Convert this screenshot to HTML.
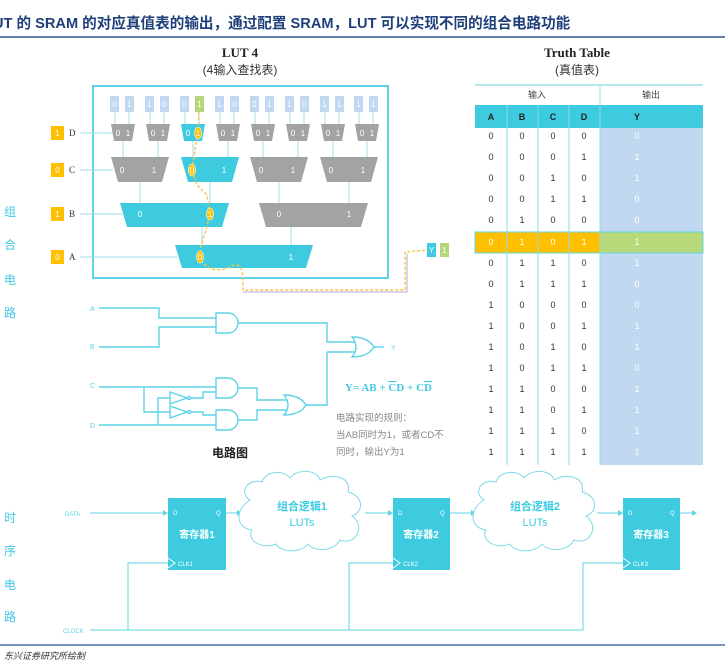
<!DOCTYPE html>
<html><head><meta charset="utf-8"><style>
html,body{margin:0;padding:0;background:#fff;width:725px;height:662px;overflow:hidden}
svg{display:block}
text{font-family:"Liberation Sans","Noto Sans CJK SC",sans-serif}
.s{font-family:"Liberation Serif","Noto Serif CJK SC",serif}
</style></head><body>
<svg width="725" height="662" viewBox="0 0 725 662" xmlns="http://www.w3.org/2000/svg">
<text x="-7" y="28" font-size="14.6" font-weight="bold" fill="#1f3f7a">UT 的 SRAM 的对应真值表的输出，通过配置 SRAM，LUT 可以实现不同的组合电路功能</text>
<line x1="0" y1="37" x2="725" y2="37" stroke="#2a5592" stroke-width="1.5"/>

<text class="s" x="240" y="57" font-size="13" font-weight="bold" text-anchor="middle" fill="#222">LUT 4</text>
<text x="240" y="74" font-size="12" text-anchor="middle" fill="#333">(4输入查找表)</text>
<text class="s" x="577" y="57" font-size="13" font-weight="bold" text-anchor="middle" fill="#222">Truth Table</text>
<text x="577" y="74" font-size="12" text-anchor="middle" fill="#333">(真值表)</text>

<rect x="93" y="86" width="295" height="192" fill="#fff" stroke="#5fd3e6" stroke-width="2"/>

<g stroke="#9fdfe9" stroke-width="1">
<line x1="115" y1="112" x2="115" y2="124"/><line x1="129" y1="112" x2="129" y2="124"/>
<line x1="150" y1="112" x2="150" y2="124"/><line x1="164" y1="112" x2="164" y2="124"/>
<line x1="185" y1="112" x2="185" y2="124"/><line x1="199" y1="112" x2="199" y2="124"/>
<line x1="220" y1="112" x2="220" y2="124"/><line x1="234" y1="112" x2="234" y2="124"/>
<line x1="255" y1="112" x2="255" y2="124"/><line x1="269" y1="112" x2="269" y2="124"/>
<line x1="290" y1="112" x2="290" y2="124"/><line x1="304" y1="112" x2="304" y2="124"/>
<line x1="325" y1="112" x2="325" y2="124"/><line x1="339" y1="112" x2="339" y2="124"/>
<line x1="359" y1="112" x2="359" y2="124"/><line x1="373" y1="112" x2="373" y2="124"/>
<line x1="123" y1="141" x2="123" y2="157"/><line x1="158" y1="141" x2="158" y2="157"/>
<line x1="193" y1="141" x2="193" y2="157"/><line x1="228" y1="141" x2="228" y2="157"/>
<line x1="263" y1="141" x2="263" y2="157"/><line x1="298" y1="141" x2="298" y2="157"/>
<line x1="333" y1="141" x2="333" y2="157"/><line x1="367" y1="141" x2="367" y2="157"/>
<line x1="140" y1="182" x2="140" y2="203"/><line x1="210" y1="182" x2="210" y2="203"/>
<line x1="279" y1="182" x2="279" y2="203"/><line x1="349" y1="182" x2="349" y2="203"/>
<line x1="202" y1="227" x2="202" y2="245"/><line x1="291" y1="227" x2="291" y2="245"/>
<line x1="80" y1="133" x2="113" y2="133"/><line x1="80" y1="170" x2="113" y2="170"/>
<line x1="80" y1="214" x2="122" y2="214"/><line x1="80" y1="257" x2="177" y2="257"/>
</g>

<g font-size="8" fill="#fff" text-anchor="middle">
<g fill="#c0d8f0">
<rect x="110" y="96" width="9" height="16"/><rect x="125" y="96" width="9" height="16"/>
<rect x="145" y="96" width="9" height="16"/><rect x="160" y="96" width="9" height="16"/>
<rect x="180" y="96" width="9" height="16"/>
<rect x="215" y="96" width="9" height="16"/><rect x="230" y="96" width="9" height="16"/>
<rect x="250" y="96" width="9" height="16"/><rect x="265" y="96" width="9" height="16"/>
<rect x="285" y="96" width="9" height="16"/><rect x="300" y="96" width="9" height="16"/>
<rect x="320" y="96" width="9" height="16"/><rect x="335" y="96" width="9" height="16"/>
<rect x="354" y="96" width="9" height="16"/><rect x="369" y="96" width="9" height="16"/>
</g>
<rect x="195" y="96" width="9" height="16" fill="#b5d77a"/>
<text x="114.5" y="107">0</text><text x="129.5" y="107">1</text>
<text x="149.5" y="107">1</text><text x="164.5" y="107">0</text>
<text x="184.5" y="107">0</text><text x="199.5" y="107">1</text>
<text x="219.5" y="107">1</text><text x="234.5" y="107">0</text>
<text x="254.5" y="107">0</text><text x="269.5" y="107">1</text>
<text x="289.5" y="107">1</text><text x="304.5" y="107">0</text>
<text x="324.5" y="107">1</text><text x="339.5" y="107">1</text>
<text x="358.5" y="107">1</text><text x="373.5" y="107">1</text>
</g>

<g fill="#a3a3a3">
<polygon points="111,124 135,124 132,141 114,141"/>
<polygon points="146,124 170,124 167,141 149,141"/>
<polygon points="216,124 240,124 237,141 219,141"/>
<polygon points="251,124 275,124 272,141 254,141"/>
<polygon points="286,124 310,124 307,141 289,141"/>
<polygon points="321,124 345,124 342,141 324,141"/>
<polygon points="355,124 379,124 376,141 358,141"/>
<polygon points="111,157 169,157 162,182 118,182"/>
<polygon points="250,157 308,157 301,182 257,182"/>
<polygon points="320,157 378,157 371,182 327,182"/>
<polygon points="259,203 368,203 361,227 266,227"/>
</g>
<g fill="#3ecbe0">
<polygon points="181,124 205,124 202,141 184,141"/>
<polygon points="181,157 239,157 232,182 188,182"/>
<polygon points="120,203 229,203 222,227 127,227"/>
<polygon points="175,245 313,245 306,268 182,268"/>
</g>
<g font-size="8" fill="#fff" text-anchor="middle">
<text x="118" y="136">0</text><text x="128" y="136">1</text>
<text x="153" y="136">0</text><text x="163" y="136">1</text>
<text x="188" y="136">0</text><text x="198" y="136">1</text>
<text x="223" y="136">0</text><text x="233" y="136">1</text>
<text x="258" y="136">0</text><text x="268" y="136">1</text>
<text x="293" y="136">0</text><text x="303" y="136">1</text>
<text x="328" y="136">0</text><text x="338" y="136">1</text>
<text x="362" y="136">0</text><text x="372" y="136">1</text>
<text x="122" y="173">0</text><text x="154" y="173">1</text>
<text x="192" y="173">0</text><text x="224" y="173">1</text>
<text x="261" y="173">0</text><text x="293" y="173">1</text>
<text x="331" y="173">0</text><text x="363" y="173">1</text>
<text x="140" y="217">0</text><text x="210" y="217">1</text>
<text x="279" y="217">0</text><text x="349" y="217">1</text>
<text x="200" y="260">0</text><text x="291" y="260">1</text>
</g>

<g font-size="8" text-anchor="middle">
<rect x="51" y="126" width="13" height="14" fill="#ffc000"/><text x="57.5" y="136" fill="#fff">1</text>
<rect x="51" y="163" width="13" height="14" fill="#ffc000"/><text x="57.5" y="173" fill="#fff">0</text>
<rect x="51" y="207" width="13" height="14" fill="#ffc000"/><text x="57.5" y="217" fill="#fff">1</text>
<rect x="51" y="250" width="13" height="14" fill="#ffc000"/><text x="57.5" y="260" fill="#fff">0</text>
</g>
<g font-size="9" fill="#333">
<text x="69" y="136" class="s">D</text><text x="69" y="173" class="s">C</text>
<text x="69" y="217" class="s">B</text><text x="69" y="260" class="s">A</text>
</g>

<path d="M199,112 L198,133 L195,150 L192,170 L197,185 L207,195 L210,214 L206,230 L201,245 L200,257 C205,272 222,272 232,266 C240,262 243,270 243,278 L243,290 L405,290 L405,252 L427,250" fill="none" stroke="#f6c445" stroke-width="1.4" stroke-dasharray="3,2"/>
<path d="M243,292 L407,292 L407,254" fill="none" stroke="#b6a7d8" stroke-width="1"/>
<g fill="#ffc000" stroke="#fff" stroke-width="0.6">
<ellipse cx="198" cy="133" rx="3.5" ry="6"/>
<ellipse cx="192" cy="170" rx="3.5" ry="6"/>
<ellipse cx="210" cy="214" rx="3.5" ry="6"/>
<ellipse cx="200" cy="257" rx="3.5" ry="6"/>
</g>
<g font-size="8" fill="#fff" text-anchor="middle">
<text x="198" y="136">1</text><text x="192" y="173">0</text><text x="210" y="217">1</text><text x="200" y="260">0</text>
</g>
<rect x="427" y="243" width="9" height="14" fill="#3ecbe0"/><text x="431.5" y="253" font-size="8" fill="#fff" text-anchor="middle">Y</text>
<rect x="440" y="243" width="9" height="14" fill="#b5d77a"/><text x="444.5" y="253" font-size="8" fill="#fff" text-anchor="middle">1</text>

<line x1="475" y1="85" x2="703" y2="85" stroke="#9fdfe9" stroke-width="1.5"/>
<line x1="600" y1="86" x2="600" y2="105" stroke="#9fdfe9"/>
<text x="537" y="98" font-size="9" text-anchor="middle" fill="#444">输入</text>
<text x="651" y="98" font-size="9" text-anchor="middle" fill="#444">输出</text>
<rect x="475" y="105" width="228" height="23" fill="#3ecbe0"/>
<rect x="600" y="128" width="103" height="337" fill="#c0d8f0"/>
<rect x="475" y="232" width="125" height="21" fill="#ffc000"/>
<rect x="600" y="232" width="103" height="21" fill="#b8d97a"/>
<rect x="475" y="232" width="228" height="21" fill="none" stroke="#5fd3e6" stroke-width="1"/>
<g stroke="#8fdbe8" stroke-width="1">
<line x1="507" y1="105" x2="507" y2="465"/><line x1="538" y1="105" x2="538" y2="465"/>
<line x1="569" y1="105" x2="569" y2="465"/><line x1="600" y1="105" x2="600" y2="465"/>
</g>
<g class="s" font-size="9" font-weight="bold" fill="#222" text-anchor="middle">
<text x="491" y="120">A</text><text x="522" y="120">B</text><text x="553" y="120">C</text><text x="584" y="120">D</text><text x="637" y="120">Y</text>
</g>
<g class="s" font-size="9" fill="#333" text-anchor="middle">
<text x="491" y="139">0</text><text x="522" y="139">0</text><text x="553" y="139">0</text><text x="584" y="139">0</text>
<text x="491" y="160">0</text><text x="522" y="160">0</text><text x="553" y="160">0</text><text x="584" y="160">1</text>
<text x="491" y="181">0</text><text x="522" y="181">0</text><text x="553" y="181">1</text><text x="584" y="181">0</text>
<text x="491" y="202">0</text><text x="522" y="202">0</text><text x="553" y="202">1</text><text x="584" y="202">1</text>
<text x="491" y="223">0</text><text x="522" y="223">1</text><text x="553" y="223">0</text><text x="584" y="223">0</text>
<g fill="#fff"><text x="491" y="245">0</text><text x="522" y="245">1</text><text x="553" y="245">0</text><text x="584" y="245">1</text></g>
<text x="491" y="266">0</text><text x="522" y="266">1</text><text x="553" y="266">1</text><text x="584" y="266">0</text>
<text x="491" y="287">0</text><text x="522" y="287">1</text><text x="553" y="287">1</text><text x="584" y="287">1</text>
<text x="491" y="308">1</text><text x="522" y="308">0</text><text x="553" y="308">0</text><text x="584" y="308">0</text>
<text x="491" y="329">1</text><text x="522" y="329">0</text><text x="553" y="329">0</text><text x="584" y="329">1</text>
<text x="491" y="350">1</text><text x="522" y="350">0</text><text x="553" y="350">1</text><text x="584" y="350">0</text>
<text x="491" y="371">1</text><text x="522" y="371">0</text><text x="553" y="371">1</text><text x="584" y="371">1</text>
<text x="491" y="392">1</text><text x="522" y="392">1</text><text x="553" y="392">0</text><text x="584" y="392">0</text>
<text x="491" y="413">1</text><text x="522" y="413">1</text><text x="553" y="413">0</text><text x="584" y="413">1</text>
<text x="491" y="434">1</text><text x="522" y="434">1</text><text x="553" y="434">1</text><text x="584" y="434">0</text>
<text x="491" y="455">1</text><text x="522" y="455">1</text><text x="553" y="455">1</text><text x="584" y="455">1</text>
<g fill="#fff">
<text x="637" y="139">0</text><text x="637" y="160">1</text><text x="637" y="181">1</text><text x="637" y="202">0</text>
<text x="637" y="223">0</text><text x="637" y="245">1</text><text x="637" y="266">1</text><text x="637" y="287">0</text>
<text x="637" y="308">0</text><text x="637" y="329">1</text><text x="637" y="350">1</text><text x="637" y="371">0</text>
<text x="637" y="392">1</text><text x="637" y="413">1</text><text x="637" y="434">1</text><text x="637" y="455">1</text>
</g>
</g>

<g font-size="12" fill="#3ecbe0" text-anchor="middle">
<text x="10" y="216">组</text><text x="10" y="249">合</text><text x="10" y="284">电</text><text x="10" y="317">路</text>
<text x="10" y="522">时</text><text x="10" y="555">序</text><text x="10" y="589">电</text><text x="10" y="621">路</text>
</g>

<g font-size="7" fill="#5fd3e6">
<text x="90" y="311">A</text><text x="90" y="349">B</text><text x="90" y="388">C</text><text x="90" y="428">D</text>
<text x="391" y="350">Y</text>
</g>
<g fill="none" stroke="#5fd3e6" stroke-width="1.4">
<path d="M99,308 H159 V318 H216"/>
<path d="M99,347 H159 V327 H216"/>
<path d="M216,313 H228 A10,10 0 0 1 228,333 H216 Z"/>
<path d="M238,323 H327 V342 H355"/>
<path d="M327,352 H355"/>
<path d="M352,337 Q360,347 352,357 Q368,357 374,347 Q368,337 352,337 Z"/>
<path d="M374,347 H384"/>
<path d="M99,387 H216"/>
<path d="M99,425 H216"/>
<path d="M216,378 H228 A10,10 0 0 1 228,398 H216 Z"/>
<path d="M216,410 H228 A10,10 0 0 1 228,430 H216 Z"/>
<path d="M144,387 V412 H170"/>
<path d="M158,425 V398 H170"/>
<path d="M170,392 V404 L187,398 Z"/>
<circle cx="189" cy="398" r="1.6"/>
<path d="M170,406 V418 L187,412 Z"/>
<circle cx="189" cy="412" r="1.6"/>
<path d="M191,398 H203 V392 H216"/>
<path d="M191,412 H203 V415 H216"/>
<path d="M238,388 H257 V400 H287"/>
<path d="M238,420 H257 V410 H287"/>
<path d="M284,395 Q292,405 284,415 Q300,415 306,405 Q300,395 284,395 Z"/>
<path d="M306,405 H327 V352"/>
</g>
<text class="s" x="345" y="391" font-size="11" font-weight="bold" fill="#3ecbe0">Y= AB + <tspan text-decoration="overline">C</tspan>D + C<tspan text-decoration="overline">D</tspan></text>
<g font-size="9.5" fill="#888">
<text x="336" y="421">电路实现的规则：</text>
<text x="336" y="438">当AB同时为1，或者CD不</text>
<text x="336" y="455">同时，输出Y为1</text>
</g>
<text x="230" y="457" font-size="12" font-weight="bold" fill="#222" text-anchor="middle">电路图</text>

<g fill="none" stroke="#5fd3e6" stroke-width="1">
<path d="M90,513 H166"/>
<path d="M226,513 H240"/>
<path d="M365,513 H391"/>
<path d="M450,513 H474"/>
<path d="M597,513 H621"/>
<path d="M680,513 H694"/>
<path d="M90,630 H583 V563 H623"/>
<path d="M128,630 V563 H168"/>
<path d="M349,630 V563 H393"/>
</g>
<g fill="#5fd3e6">
<polygon points="168,513 163,510 163,516"/>
<polygon points="242,513 237,510 237,516"/>
<polygon points="393,513 388,510 388,516"/>
<polygon points="476,513 471,510 471,516"/>
<polygon points="623,513 618,510 618,516"/>
<polygon points="697,513 692,510 692,516"/>
</g>
<g fill="#3ecbe0">
<rect x="168" y="498" width="58" height="72"/>
<rect x="393" y="498" width="57" height="72"/>
<rect x="623" y="498" width="57" height="72"/>
</g>
<g fill="none" stroke="#fff" stroke-width="1">
<path d="M168,558 L175,563 L168,568"/><path d="M393,558 L400,563 L393,568"/><path d="M623,558 L630,563 L623,568"/>
</g>
<g font-size="6" fill="#fff">
<text x="173" y="515">D</text><text x="216" y="515">Q</text><text x="178" y="566">CLK1</text>
<text x="398" y="515">D</text><text x="440" y="515">Q</text><text x="403" y="566">CLK2</text>
<text x="628" y="515">D</text><text x="670" y="515">Q</text><text x="633" y="566">CLK3</text>
</g>
<g font-size="10" font-weight="bold" fill="#fff" text-anchor="middle">
<text x="197" y="538">寄存器1</text><text x="421" y="538">寄存器2</text><text x="651" y="538">寄存器3</text>
</g>
<g font-size="6" fill="#5fd3e6"><text x="65" y="516">DATA</text><text x="63" y="633">CLOCK</text></g>
<g fill="#fff" stroke="#7fd9e8" stroke-width="1">
<path d="M250,500 C238,492 248,478 262,482 C266,470 284,470 290,478 C298,468 318,470 320,480 C334,472 352,478 348,492 C364,496 364,512 352,516 C366,526 356,546 340,540 C334,552 314,552 308,544 C300,554 280,552 276,544 C262,550 246,540 252,530 C236,528 234,510 250,500 Z"/>
<path d="M484,500 C472,492 482,478 496,482 C500,470 518,470 524,478 C532,468 552,470 554,480 C568,472 586,478 582,492 C598,496 598,512 586,516 C600,526 590,546 574,540 C568,552 548,552 542,544 C534,554 514,552 510,544 C496,550 480,540 486,530 C470,528 468,510 484,500 Z"/>
</g>
<g font-size="11" font-weight="bold" fill="#3ecbe0" text-anchor="middle">
<text x="302" y="510">组合逻辑1</text><text x="302" y="526" font-weight="normal">LUTs</text>
<text x="535" y="510">组合逻辑2</text><text x="535" y="526" font-weight="normal">LUTs</text>
</g>

<line x1="0" y1="645" x2="725" y2="645" stroke="#2a5592" stroke-width="1.2"/>
<text x="4" y="659" font-size="9" font-style="italic" fill="#333">东兴证券研究所绘制</text>
</svg>
</body></html>
